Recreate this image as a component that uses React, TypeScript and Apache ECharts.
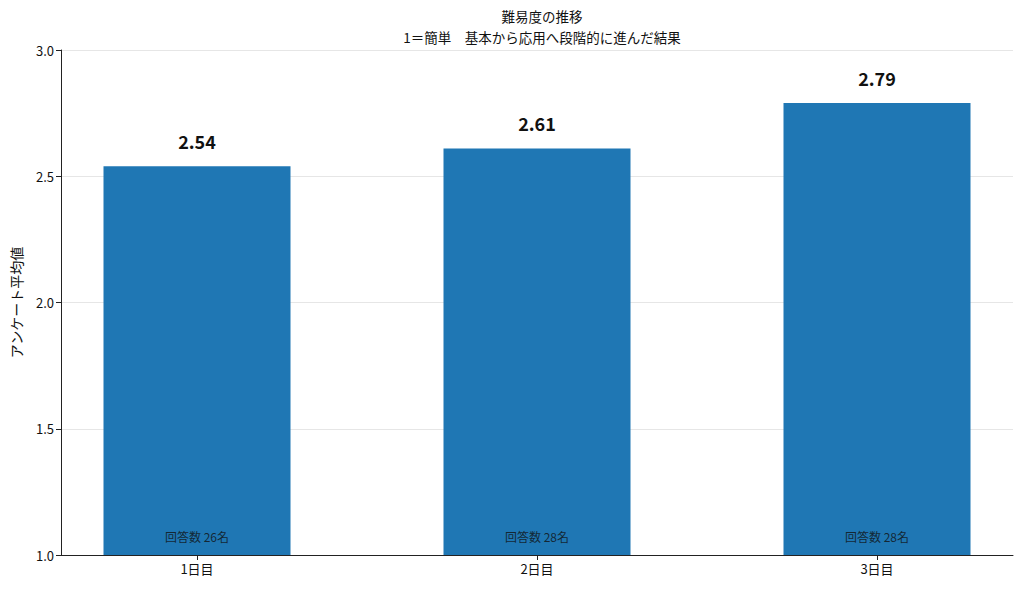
import React, { useEffect, useRef } from "react";
import * as echarts from "echarts";

const categories = ["1日目", "2日目", "3日目"];
const averages = [2.54, 2.61, 2.79];
const respondents = [26, 28, 28];

const FONT = "'Noto Sans CJK JP', 'Noto Sans', sans-serif";

export default function App() {
  const ref = useRef<HTMLDivElement>(null);
  useEffect(() => {
    if (!ref.current) return;
    const chart = echarts.init(ref.current, null, { renderer: "svg" });
    const positions = categories.map((_, i) => i);
    chart.setOption({
      animation: false,
      textStyle: { fontFamily: FONT },
      title: {
        text: "難易度の推移\n1＝簡単　基本から応用へ段階的に進んだ結果",
        left: 537,
        textAlign: "center",
        top: 0,
        textStyle: {
          fontFamily: FONT,
          fontSize: 13.5,
          fontWeight: "normal",
          color: "#111",
          lineHeight: 21,
        },
      },
      grid: { left: 61, right: 11, top: 50, bottom: 35 },
      xAxis: {
        type: "value",
        min: -0.4,
        max: 2.4,
        axisLine: { show: true, onZero: false, lineStyle: { color: "#222", width: 1 } },
        axisTick: {
          show: true,
          customValues: positions,
          length: 5,
          lineStyle: { color: "#222" },
        },
        axisLabel: {
          customValues: positions,
          formatter: (v: number) => categories[Math.round(v)] ?? "",
          color: "#111",
          fontSize: 13,
          fontFamily: FONT,
          margin: 7,
        },
        splitLine: { show: false },
      },
      yAxis: {
        type: "value",
        min: 1.0,
        max: 3.0,
        interval: 0.5,
        name: "アンケート平均値",
        nameLocation: "middle",
        nameRotate: 90,
        nameGap: 38,
        nameTextStyle: { fontFamily: FONT, fontSize: 14, color: "#111" },
        axisLine: { show: true, onZero: false, lineStyle: { color: "#222", width: 1 } },
        axisTick: { show: true, length: 5, lineStyle: { color: "#222" } },
        axisLabel: {
          formatter: (v: number) => v.toFixed(1),
          color: "#111",
          fontSize: 13,
          fontFamily: FONT,
          margin: 7,
        },
        splitLine: { show: true, lineStyle: { color: "#e6e6e6", width: 1 } },
      },
      series: [
        {
          type: "bar",
          data: averages.map((v, i) => [positions[i], v]),
          barWidth: 187,
          itemStyle: { color: "#1f77b4" },
          label: {
            show: true,
            position: "top",
            distance: 16,
            formatter: (p: any) => p.value[1].toFixed(2),
            fontSize: 18,
            fontWeight: "bold",
            color: "#111",
            fontFamily: FONT,
          },
          z: 2,
        },
        {
          type: "scatter",
          data: respondents.map((n, i) => [positions[i], 1.0, n]),
          symbolSize: 0,
          silent: true,
          label: {
            show: true,
            position: "top",
            distance: 13,
            formatter: (p: any) => `回答数 ${p.value[2]}名`,
            fontSize: 12,
            color: "#111",
            fontFamily: FONT,
          },
          z: 5,
        },
      ],
    });
    return () => chart.dispose();
  }, []);
  return (
    <div
      ref={ref}
      style={{ position: "absolute", left: 0, top: 0, width: 1024, height: 590 }}
    />
  );
}
